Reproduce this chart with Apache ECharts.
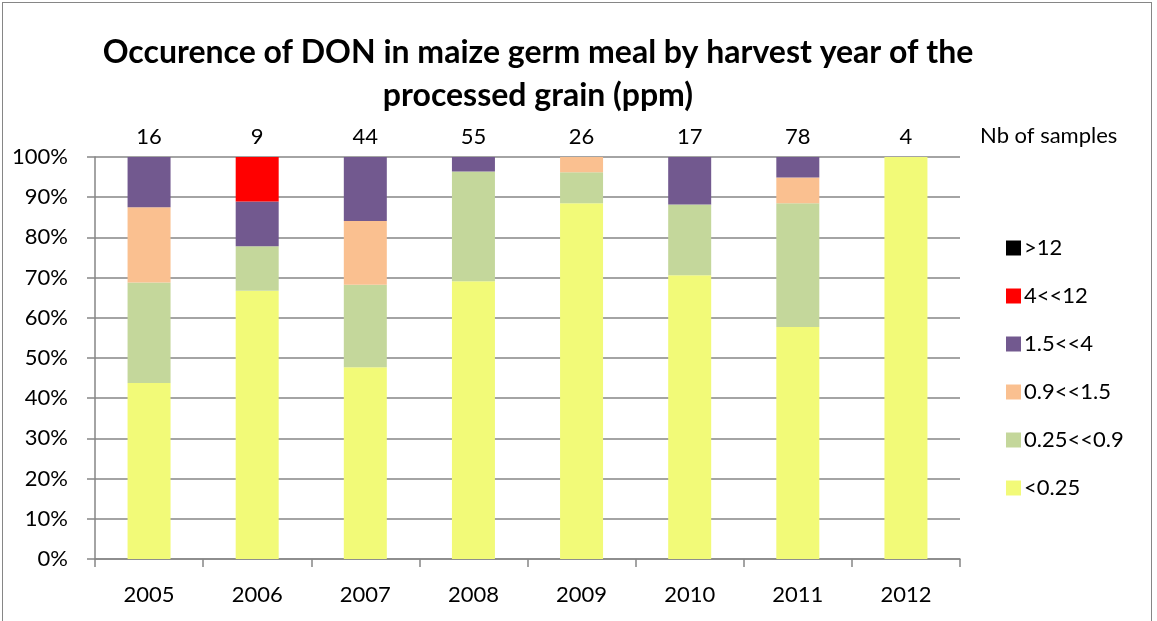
<!DOCTYPE html>
<html>
<head>
<meta charset="utf-8">
<script src="https://cdn.jsdelivr.net/npm/echarts@6/dist/echarts.min.js"></script>
<style>
  html, body { margin: 0; padding: 0; background: #fff; }
  #chart { width: 1157px; height: 621px; }
  #frame { position: absolute; left: 2px; top: 2px; width: 1150px; height: 640px; border: 1.5px solid #868686; box-sizing: border-box; pointer-events: none; }
</style>
</head>
<body>
<div id="chart"></div>
<div id="frame"></div>
<script>
// harvest years and number of samples per year
const years = ['2005', '2006', '2007', '2008', '2009', '2010', '2011', '2012'];
const sampleCounts = ['16', '9', '44', '55', '26', '17', '78', '4'];

// share of samples (%) per DON class (ppm), bottom to top
const below025 = [43.8, 66.7, 47.7, 69.1, 88.5, 70.6, 57.7, 100];
const from025to09 = [25.0, 11.1, 20.5, 27.3, 7.7, 17.6, 30.8, 0];
const from09to15 = [18.7, 0, 15.9, 0, 3.8, 0, 6.4, 0];
const from15to4 = [12.5, 11.1, 15.9, 3.6, 0, 11.8, 5.1, 0];
const from4to12 = [0, 11.1, 0, 0, 0, 0, 0, 0];
const above12 = [0, 0, 0, 0, 0, 0, 0, 0];

const classNames = ['<0.25', '0.25<<0.9', '0.9<<1.5', '1.5<<4', '4<<12', '>12'];
const classColors = ['#F2FA78', '#C4D79B', '#FAC090', '#72598F', '#FF0000', '#000000'];
const classValues = [below025, from025to09, from09to15, from15to4, from4to12, above12];

const font = 'Lato, "Open Sans", sans-serif';
const gray = '#868686';
const fs = 22;

const chart = echarts.init(document.getElementById('chart'), null, { renderer: 'canvas' });

chart.setOption({
    backgroundColor: '#fff',
    animation: false,
    textStyle: { fontFamily: font },
    title: [
        {
            text: 'Occurence of DON in maize germ meal by harvest year of the\nprocessed grain (ppm)',
            left: 533, top: 26, textAlign: 'center',
            textStyle: { fontFamily: font, fontSize: 32, fontWeight: 'bold', color: '#000', lineHeight: 43 }
        },
        {
            text: 'Nb of samples',
            left: 975, top: 120,
            textStyle: { fontFamily: font, fontSize: fs, fontWeight: 'normal', color: '#000' }
        }
    ],
    legend: {
        orient: 'vertical',
        left: 1001, top: 232,
        icon: 'rect',
        itemWidth: 15, itemHeight: 15, itemGap: 26,
        textStyle: { fontFamily: font, fontSize: fs, color: '#000', lineHeight: 18, padding: [0, 0, 0, -2] },
        data: classNames.slice().reverse()
    },
    grid: { left: 95, right: 197, top: 157, bottom: 62 },
    xAxis: [
        {
            type: 'category', data: years,
            axisLine: { lineStyle: { color: gray, width: 1.5 } },
            axisTick: { show: true, length: 8, lineStyle: { color: gray, width: 1.5 } },
            axisLabel: { color: '#000', fontSize: fs, margin: 25, fontFamily: font }
        },
        {
            type: 'category', data: sampleCounts, position: 'top',
            axisLine: { show: false }, axisTick: { show: false },
            axisLabel: { color: '#000', fontSize: fs, margin: 9, fontFamily: font }
        }
    ],
    yAxis: {
        type: 'value', min: 0, max: 100, interval: 10,
        axisLine: { show: true, lineStyle: { color: gray, width: 1.5 } },
        axisTick: { show: true, length: 8, lineStyle: { color: gray, width: 1.5 } },
        axisLabel: { color: '#000', fontSize: fs, margin: 27, formatter: '{value}%', fontFamily: font },
        splitLine: { lineStyle: { color: gray, width: 1.5 } }
    },
    series: classNames.map((name, i) => ({
        name: name, type: 'bar', stack: 'share',
        barWidth: 43,
        itemStyle: { color: classColors[i] },
        data: classValues[i]
    }))
});
</script>
</body>
</html>
